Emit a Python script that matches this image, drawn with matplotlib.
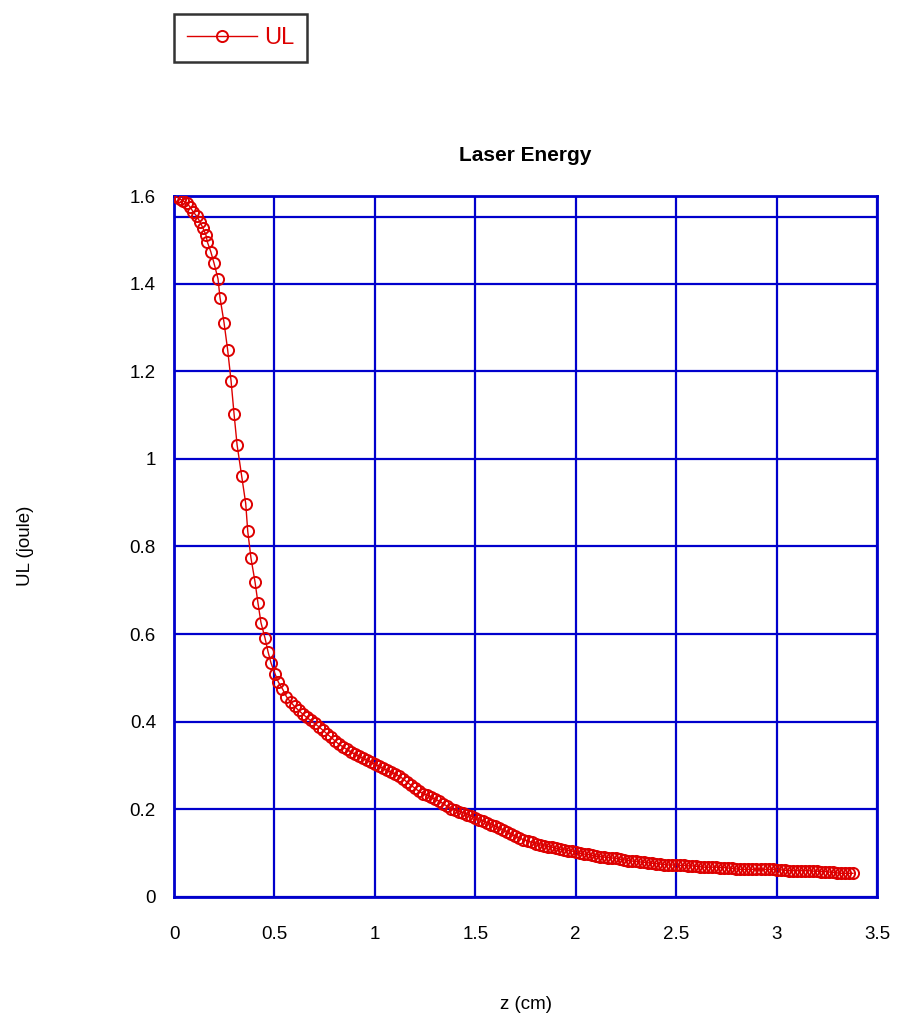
import matplotlib
matplotlib.use("Agg")
import matplotlib.pyplot as plt
from matplotlib.ticker import FuncFormatter

plt.rcParams['font.family'] = ['Liberation Sans', 'DejaVu Sans']

# Data (z in cm, UL in joule)
z_steep = [0.0, 0.013, 0.03, 0.045, 0.063, 0.08, 0.095, 0.113, 0.129, 0.144,
           0.159, 0.166, 0.183, 0.199, 0.219, 0.229, 0.249, 0.267, 0.284, 0.299,
           0.314, 0.337, 0.357, 0.367, 0.383, 0.403, 0.418, 0.433, 0.453, 0.468,
           0.483, 0.503, 0.52]
ul_steep = [1.600, 1.598, 1.593, 1.589, 1.584, 1.575, 1.564, 1.554, 1.541, 1.527,
            1.511, 1.495, 1.473, 1.447, 1.411, 1.368, 1.311, 1.249, 1.178, 1.102,
            1.032, 0.960, 0.898, 0.835, 0.774, 0.720, 0.671, 0.626, 0.591, 0.560,
            0.534, 0.509, 0.490]

z_tail = [0.54, 0.56, 0.58, 0.60, 0.62, 0.64, 0.66, 0.68, 0.70, 0.72,
          0.74, 0.76, 0.78, 0.80, 0.82, 0.84, 0.86, 0.88, 0.90, 0.92,
          0.94, 0.96, 0.98, 1.00, 1.02, 1.04, 1.06, 1.08, 1.10, 1.12,
          1.14, 1.16, 1.18, 1.20, 1.22, 1.24, 1.26, 1.28, 1.30, 1.32,
          1.34, 1.36, 1.38, 1.40, 1.42, 1.44, 1.46, 1.48, 1.50, 1.52,
          1.54, 1.56, 1.58, 1.60, 1.62, 1.64, 1.66, 1.68, 1.70, 1.72,
          1.74, 1.76, 1.78, 1.80, 1.82, 1.84, 1.86, 1.88, 1.90, 1.92,
          1.94, 1.96, 1.98, 2.00, 2.02, 2.04, 2.06, 2.08, 2.10, 2.12,
          2.14, 2.16, 2.18, 2.20, 2.22, 2.24, 2.26, 2.28, 2.30, 2.32,
          2.34, 2.36, 2.38, 2.40, 2.42, 2.44, 2.46, 2.48, 2.50, 2.52,
          2.54, 2.56, 2.58, 2.60, 2.62, 2.64, 2.66, 2.68, 2.70, 2.72,
          2.74, 2.76, 2.78, 2.80, 2.82, 2.84, 2.86, 2.88, 2.90, 2.92,
          2.94, 2.96, 2.98, 3.00, 3.02, 3.04, 3.06, 3.08, 3.10, 3.12,
          3.14, 3.16, 3.18, 3.20, 3.22, 3.24, 3.26, 3.28, 3.30, 3.32,
          3.34, 3.36, 3.38]
ul_tail = [0.475, 0.457, 0.445, 0.435, 0.426, 0.418, 0.410, 0.403, 0.396, 0.389,
           0.381, 0.373, 0.365, 0.357, 0.349, 0.343, 0.337, 0.331, 0.326, 0.321,
           0.317, 0.312, 0.308, 0.303, 0.298, 0.294, 0.289, 0.285, 0.281, 0.276,
           0.270, 0.262, 0.255, 0.248, 0.241, 0.236, 0.232, 0.228, 0.223, 0.219,
           0.213, 0.207, 0.201, 0.198, 0.195, 0.192, 0.188, 0.184, 0.180, 0.176,
           0.173, 0.169, 0.165, 0.161, 0.157, 0.153, 0.148, 0.143, 0.139, 0.134,
           0.131, 0.128, 0.125, 0.122, 0.119, 0.117, 0.115, 0.114, 0.111, 0.109,
           0.108, 0.106, 0.105, 0.102, 0.100, 0.098, 0.097, 0.095, 0.093, 0.092,
           0.091, 0.090, 0.089, 0.088, 0.086, 0.085, 0.083, 0.082, 0.081, 0.080,
           0.079, 0.078, 0.077, 0.076, 0.075, 0.074, 0.073, 0.073, 0.073, 0.072,
           0.072, 0.071, 0.071, 0.070, 0.069, 0.068, 0.068, 0.068, 0.068, 0.067,
           0.067, 0.066, 0.065, 0.064, 0.063, 0.063, 0.063, 0.063, 0.063, 0.063,
           0.063, 0.063, 0.063, 0.062, 0.062, 0.061, 0.060, 0.060, 0.060, 0.060,
           0.060, 0.060, 0.059, 0.059, 0.058, 0.058, 0.057, 0.056, 0.055, 0.054,
           0.054, 0.054, 0.054]

z = z_steep + z_tail
ul = ul_steep + ul_tail

x_ticks = [0, 0.5, 1, 1.5, 2, 2.5, 3, 3.5]
y_ticks = [0, 0.2, 0.4, 0.6, 0.8, 1, 1.2, 1.4, 1.6]

red = '#dd0000'
blue = '#0000cc'

fig = plt.figure(figsize=(8.97, 10.23), dpi=100)
ax = fig.add_axes([0.194, 0.1232, 0.7837, 0.6852])

ax.plot(z, ul, color=red, lw=1.0, marker='o', markersize=8,
        markerfacecolor='none', markeredgecolor=red, markeredgewidth=1.4,
        label='UL', zorder=3)

ax.set_xlim(0, 3.5)
ax.set_ylim(0, 1.6)
ax.set_xticks(x_ticks)
ax.set_yticks(y_ticks)
fmt = FuncFormatter(lambda v, p: '%g' % v)
ax.xaxis.set_major_formatter(fmt)
ax.yaxis.set_major_formatter(fmt)
ax.tick_params(length=0, labelsize=13.5)
ax.tick_params(axis='x', pad=21)
ax.tick_params(axis='y', pad=13)

ax.grid(True, color=blue, lw=1.6)
ax.axhline(1.553, color=blue, lw=1.6, zorder=1)
for s in ax.spines.values():
    s.set_color(blue)
    s.set_linewidth(2)

ax.set_title('Laser Energy', fontsize=15, fontweight='bold', pad=25)
ax.set_xlabel('z (cm)', fontsize=13.5, labelpad=38)
fig.text(0.028, 0.466, 'UL (joule)', rotation=90, fontsize=13.5,
         ha='center', va='center')

leg = fig.legend(loc='lower left', bbox_to_anchor=(0.194, 0.939, 0.148, 0.051),
                 mode='expand', fontsize=17, frameon=True, fancybox=False,
                 handlelength=2.95, handletextpad=0.3, borderpad=0.55,
                 borderaxespad=0)
leg.get_frame().set_edgecolor('black')
leg.get_frame().set_linewidth(1.8)
for t in leg.get_texts():
    t.set_color(red)

fig.savefig('out.png', dpi=100)
